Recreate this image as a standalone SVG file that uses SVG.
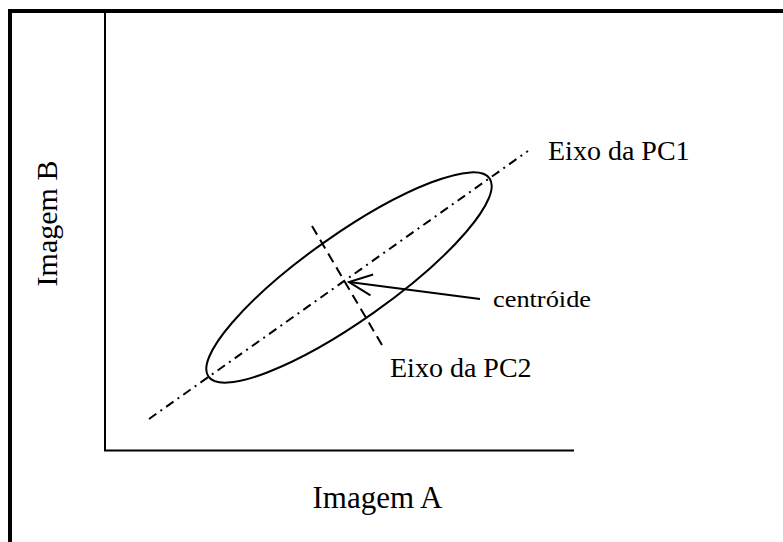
<svg xmlns="http://www.w3.org/2000/svg" width="783" height="542" viewBox="0 0 783 542">
<style>
.t{font-family:'Liberation Serif','Times New Roman',Times,serif;fill:#000}
.ln{fill:none;stroke:#000;stroke-width:2}
.pc1{fill:none;stroke:#000;stroke-width:2;stroke-dasharray:9 5 2 5}
.pc2{fill:none;stroke:#000;stroke-width:2;stroke-dasharray:10 6}
</style>
<defs>
<marker id="vhead" markerWidth="32" markerHeight="32" refX="30" refY="16" orient="auto" markerUnits="userSpaceOnUse">
<path d="M7,5.5 L30,16 L7,26.5" fill="none" stroke="#000" stroke-width="2"/>
</marker>
</defs>
<rect width="783" height="542" fill="#fff"/>
<g id="frame"><path d="M10,545 V11 H790" fill="none" stroke="#000" stroke-width="4"/></g>
<g id="axes">
<path class="ln" d="M105,13 V450.5 H574"/>
</g>
<g id="ellipse">
<ellipse class="ln" cx="349" cy="277.5" rx="172" ry="43" transform="rotate(-35.2 349 277.5)"/>
</g>
<g id="connectors">
<path class="pc1" d="M149,419 L528,151"/>
<path class="pc2" d="M312,226 L382,345"/>
<path class="ln" d="M480,299 L349,282" marker-end="url(#vhead)"/>
</g>
<g font-family="Liberation Serif, Times New Roman, serif">
<g id="label-pc1"><text class="t" x="548" y="160" font-size="28">Eixo da PC1</text></g>
<g id="label-pc2"><text class="t" x="390" y="377" font-size="28">Eixo da PC2</text></g>
<g id="label-centroide"><text class="t" x="493" y="306.5" font-size="24" textLength="98" lengthAdjust="spacingAndGlyphs">centróide</text></g>
<g id="label-a"><text class="t" x="377.5" y="508" font-size="31" text-anchor="middle">Imagem A</text></g>
<g id="label-b"><text class="t" transform="translate(56.5 223.5) rotate(-90)" font-size="30" text-anchor="middle">Imagem B</text></g>
</g>
</svg>
